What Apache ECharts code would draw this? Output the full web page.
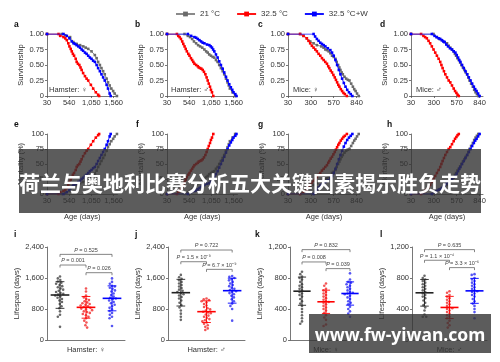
<!DOCTYPE html>
<html><head><meta charset="utf-8">
<script src="https://cdn.jsdelivr.net/npm/echarts@6/dist/echarts.min.js"></script>
<style>html,body{margin:0;padding:0;background:#fff}#c{width:500px;height:362px}</style>
</head><body><div id="c"></div><script>
// ---- categories / legend ----
const seriesNames = ['21 °C', '32.5 °C', '32.5 °C+W'];
// ---- survivorship curves [age (days), survivorship] ----
const aGray = [[30,1],[371,1],[450,0.98],[561,0.95],[636,0.87],[712,0.84],[790,0.82],[864,0.80],[920,0.78],[977,0.76],[1053,0.72],[1129,0.66],[1170,0.61],[1205,0.55],[1245,0.50],[1281,0.45],[1320,0.40],[1357,0.35],[1400,0.28],[1432,0.22],[1470,0.17],[1508,0.12],[1550,0.08],[1584,0.04],[1637,0]];
const aRed  = [[30,1],[295,1],[333,0.97],[409,0.95],[450,0.93],[485,0.90],[520,0.85],[545,0.80],[575,0.76],[599,0.72],[625,0.68],[652,0.65],[690,0.60],[712,0.55],[740,0.52],[773,0.50],[800,0.46],[826,0.42],[860,0.37],[902,0.32],[940,0.28],[977,0.25],[1038,0.18],[1091,0.12],[1152,0.06],[1205,0.02],[1228,0]];
const aBlue = [[30,1],[409,1],[485,0.97],[545,0.93],[599,0.88],[640,0.85],[674,0.84],[710,0.82],[750,0.80],[790,0.78],[826,0.75],[860,0.73],[902,0.70],[940,0.68],[977,0.65],[1015,0.62],[1053,0.60],[1090,0.57],[1129,0.55],[1170,0.50],[1205,0.45],[1245,0.40],[1281,0.35],[1320,0.30],[1357,0.25],[1400,0.18],[1432,0.12],[1470,0.04],[1493,0]];
const bGray = [[30,1],[433,1],[509,0.97],[560,0.95],[608,0.92],[650,0.88],[699,0.85],[745,0.82],[790,0.80],[840,0.78],[889,0.75],[930,0.72],[965,0.70],[1000,0.67],[1041,0.65],[1080,0.63],[1117,0.62],[1155,0.58],[1193,0.55],[1230,0.50],[1269,0.45],[1310,0.40],[1345,0.35],[1385,0.28],[1421,0.22],[1450,0.17],[1474,0.12],[1535,0.06],[1596,0]];
const bRed  = [[30,1],[258,1],[290,0.97],[319,0.95],[350,0.92],[380,0.88],[405,0.84],[433,0.80],[460,0.76],[486,0.72],[520,0.68],[547,0.65],[580,0.61],[608,0.58],[635,0.55],[661,0.52],[700,0.50],[737,0.48],[760,0.46],[790,0.45],[820,0.44],[851,0.42],[880,0.39],[912,0.35],[940,0.30],[965,0.25],[990,0.20],[1018,0.15],[1040,0.10],[1064,0.06],[1094,0]];
const bBlue = [[30,1],[509,1],[585,0.97],[661,0.95],[700,0.94],[737,0.92],[775,0.90],[813,0.88],[850,0.86],[889,0.85],[950,0.83],[1003,0.82],[1035,0.80],[1064,0.78],[1090,0.75],[1117,0.72],[1155,0.67],[1193,0.62],[1230,0.56],[1269,0.50],[1310,0.44],[1345,0.38],[1385,0.31],[1421,0.25],[1460,0.19],[1497,0.14],[1530,0.10],[1558,0.06],[1600,0.03],[1626,0]];
const cGray = [[30,1],[173,1],[213,0.97],[252,0.93],[292,0.88],[332,0.85],[371,0.82],[423,0.80],[450,0.78],[471,0.75],[490,0.74],[510,0.72],[530,0.69],[550,0.65],[570,0.63],[590,0.60],[605,0.55],[622,0.50],[636,0.46],[649,0.42],[663,0.38],[677,0.35],[697,0.31],[717,0.28],[736,0.26],[756,0.25],[776,0.20],[796,0.15],[812,0.11],[828,0.08],[845,0.04],[865,0]];
const cRed  = [[30,1],[173,1],[213,0.97],[252,0.93],[272,0.89],[292,0.85],[312,0.81],[332,0.78],[352,0.75],[371,0.72],[391,0.68],[411,0.65],[431,0.61],[451,0.58],[470,0.55],[490,0.52],[505,0.48],[518,0.45],[534,0.41],[550,0.38],[566,0.34],[582,0.30],[596,0.26],[610,0.22],[624,0.18],[637,0.15],[653,0.11],[669,0.08],[685,0.05],[701,0.03],[725,0]];
const cBlue = [[30,1],[332,1],[350,0.96],[371,0.92],[391,0.89],[411,0.86],[431,0.84],[451,0.82],[471,0.80],[500,0.77],[530,0.74],[550,0.70],[570,0.65],[590,0.58],[610,0.50],[630,0.42],[649,0.35],[669,0.28],[689,0.21],[709,0.15],[729,0.10],[750,0.06],[770,0.03],[790,0]];
const dGray = [[30,1],[296,1],[336,0.95],[365,0.92],[395,0.90],[425,0.87],[455,0.85],[475,0.81],[494,0.78],[514,0.75],[534,0.72],[548,0.68],[562,0.65],[578,0.61],[594,0.58],[610,0.54],[625,0.50],[643,0.46],[661,0.42],[677,0.38],[693,0.35],[707,0.30],[721,0.25],[740,0.20],[760,0.15],[776,0.10],[792,0.06],[808,0.03],[824,0]];
const dRed  = [[30,1],[149,1],[177,0.97],[197,0.95],[217,0.93],[237,0.89],[256,0.85],[276,0.80],[296,0.75],[316,0.70],[336,0.65],[356,0.60],[375,0.55],[389,0.50],[403,0.45],[419,0.40],[435,0.35],[455,0.30],[475,0.25],[494,0.22],[514,0.17],[534,0.12],[550,0.08],[566,0.05],[580,0.02],[594,0]];
const dBlue = [[30,1],[276,1],[308,0.97],[332,0.95],[356,0.93],[375,0.92],[395,0.90],[411,0.88],[427,0.87],[447,0.83],[467,0.80],[490,0.77],[514,0.75],[534,0.72],[554,0.70],[570,0.66],[586,0.62],[600,0.58],[613,0.55],[633,0.50],[653,0.45],[673,0.40],[693,0.35],[713,0.30],[733,0.25],[752,0.20],[772,0.15],[788,0.11],[804,0.08],[822,0.04],[840,0]];
// ---- lifespans (days) ----
const iGray = [1640,1590,1550,1510,1480,1450,1420,1390,1360,1330,1300,1270,1240,1210,1190,1170,1150,1120,1090,1060,1020,980,930,870,820,740,650,600,340];
const iRed  = [1330,1250,1150,1100,1060,1030,1000,970,950,930,910,890,870,850,830,810,790,770,740,720,700,670,640,600,560,500,450,380,320];
const iBlue = [1590,1500,1450,1400,1380,1350,1320,1280,1250,1200,1160,1120,1090,1070,1050,1020,980,950,910,870,830,790,750,700,650,600,560,360];
const jGray = [1680,1620,1580,1540,1500,1460,1420,1380,1340,1300,1270,1240,1210,1180,1150,1110,1070,1020,960,900,840,760,680,600,520];
const jRed  = [1070,1050,1030,1000,970,930,890,850,820,790,760,730,710,690,660,630,600,570,540,510,480,450,420,380,340,300,260];
const jBlue = [1650,1630,1600,1570,1540,1500,1460,1420,1390,1350,1320,1290,1260,1240,1210,1180,1140,1100,1050,1000,940,880,800,500];
const kGray = [880,850,820,800,780,750,720,700,680,660,640,620,600,580,560,530,500,470,440,400,360,320,280,240,210];
const kRed  = [730,700,660,640,620,600,580,560,540,520,500,490,480,460,440,420,400,380,350,320,290,260,200,180];
const kBlue = [860,780,750,740,720,700,680,660,640,620,610,600,590,570,550,530,500,480,460,430,400,370,340,300];
const lGray = [830,800,780,760,740,720,700,680,660,640,620,600,580,560,540,510,480,450,420,380,330,300,300];
const lRed  = [630,610,580,560,540,520,500,480,460,440,420,410,400,380,360,340,320,300,280,250,220,190,160];
const lBlue = [850,840,800,780,760,740,720,700,680,660,640,630,620,600,580,560,530,500,470,440,400,360,280];
// mean and SD
const iMean = [1161, 843, 1075], iSd = [344, 280, 322];
const jMean = [1221, 731, 1273], jSd = [344, 280, 322];
const kMean = [630, 493, 600],   kSd = [182, 150, 150];
const lMean = [609, 420, 634],   lSd = [172, 143, 161];
// P-value brackets: [from group, to group, height]
const iBr = [[0,2,2210],[0,1,1935],[1,2,1737]], iP = ['0.525','0.001','0.026'];
const jBr = [[0,2,2322],[0,1,2020],[1,2,1823]], jP = ['0.722','1.5 × 10⁻⁹','6.7 × 10⁻⁹'];
const kBr = [[0,2,1166],[0,1,1007],[1,2,921]],  kP = ['0.832','0.008','0.039'];
const lBr = [[0,2,1166],[0,1,1029],[1,2,934]],  lP = ['0.635','1.1 × 10⁻⁴','3.3 × 10⁻⁶'];
// tick labels
const hamsterTicks = [30, 540, 1050, 1560];
const miceTicks = [30, 300, 570, 840];
const survTicks = [0, 0.25, 0.5, 0.75, 1];
const mortTicks = [0, 25, 50, 75, 100];

// ---- styling ----
const FONT = "'Liberation Sans', Arial, sans-serif";
const lineColors = ['#8a8a8a', '#ff1515', '#1515ff'];
const markColors = ['#6a6a6a', '#ff0000', '#0000ff'];
const dotColors  = ['#444444', '#f02a2a', '#2a2af0'];
const meanColors = ['#222222', '#ff0000', '#0000ff'];
const axisCol = '#555';

const cols14 = [[47,70.5],[167,70.5],[288,72],[411,72]];
const cols3 = [[47,78],[168,77],[290,72],[412,75]];
const grids = [], xAxes = [], yAxes = [], series = [];
const fmtNum = v => Number(v).toLocaleString('en-US');

function baseAxis(){
  return {
    axisLine:{show:true, lineStyle:{color:axisCol, width:0.8}},
    axisTick:{show:true, length:2, lineStyle:{color:axisCol, width:0.8}},
    splitLine:{show:false},
    axisLabel:{fontSize:7.5, color:'#333', fontFamily:FONT, margin:3},
    nameTextStyle:{fontSize:7.5, color:'#333', fontFamily:FONT}
  };
}

const curveSets = [[aGray,aRed,aBlue],[bGray,bRed,bBlue],[cGray,cRed,cBlue],[dGray,dRed,dBlue]];
// rows 1 and 2
for (let row = 0; row < 2; row++) {
  for (let p = 0; p < 4; p++) {
    const g = grids.length;
    const top = row === 0 ? 34 : 134, h = row === 0 ? 62 : 60;
    grids.push({left: cols14[p][0], top: top, width: cols14[p][1], height: h});
    const ham = p < 2;
    const ticks = ham ? hamsterTicks : miceTicks;
    xAxes.push(Object.assign(baseAxis(), {
      type:'value', gridIndex:g, min:30, max: ham ? 1650 : 880,
      axisLabel:Object.assign(baseAxis().axisLabel, {customValues:ticks, formatter:fmtNum}),
      axisTick:Object.assign(baseAxis().axisTick, {customValues:ticks}),
      name: row === 1 ? 'Age (days)' : '', nameLocation:'middle', nameGap:19
    }));
    const yt = row === 0 ? survTicks : mortTicks;
    yAxes.push(Object.assign(baseAxis(), {
      type:'value', gridIndex:g, min:0, max: row === 0 ? 1 : 100,
      axisLabel:Object.assign(baseAxis().axisLabel, {customValues:yt,
        formatter: v => row === 0 ? (v === 0 ? '0' : v.toFixed(2)) : String(v)}),
      axisTick:Object.assign(baseAxis().axisTick, {customValues:yt}),
      name: row === 0 ? 'Survivorship' : 'Mortality (%)', nameLocation:'middle', nameGap:22
    }));
    curveSets[p].forEach((d, k) => {
      const data = row === 0 ? d : d.map(q => [q[0], Math.round((1 - q[1]) * 1000) / 10]);
      series.push({type:'line', name:seriesNames[k], xAxisIndex:g, yAxisIndex:g, data:data,
        symbol:'rect', symbolSize:2.6, showSymbol:true,
        lineStyle:{color:lineColors[k], width:1}, itemStyle:{color:markColors[k]},
        z: 2 + k, silent:true});
    });
  }
}
// row 3
const dotSets = [[iGray,iRed,iBlue],[jGray,jRed,jBlue],[kGray,kRed,kBlue],[lGray,lRed,lBlue]];
const meanSets = [[iMean,iSd],[jMean,jSd],[kMean,kSd],[lMean,lSd]];
const brSets = [[iBr,iP],[jBr,jP],[kBr,kP],[lBr,lP]];
const row3Names = ['Hamster: ♀','Hamster: ♂','Mice: ♀','Mice: ♂'];
for (let p = 0; p < 4; p++) {
  const g = grids.length;
  grids.push({left: cols3[p][0], top:247, width: cols3[p][1], height:93});
  const ham = p < 2;
  xAxes.push(Object.assign(baseAxis(), {
    type:'category', gridIndex:g, data:seriesNames, boundaryGap:true,
    axisTick:{show:false}, axisLabel:{show:false},
    jitter: 13, jitterOverlap:false, jitterMargin:0.3,
    name: row3Names[p], nameLocation:'middle', nameGap:6,
    nameTextStyle:{fontSize:7.5, color:'#333', fontFamily:FONT}
  }));
  yAxes.push(Object.assign(baseAxis(), {
    type:'value', gridIndex:g, min:0, max: ham ? 2400 : 1200, interval: ham ? 800 : 400,
    axisLabel:Object.assign(baseAxis().axisLabel, {formatter:fmtNum}),
    name:'Lifespan (days)', nameLocation:'middle', nameGap:24
  }));
  dotSets[p].forEach((vals, k) => {
    series.push({type:'scatter', name:seriesNames[k], xAxisIndex:g, yAxisIndex:g,
      data: vals.map(v => [k, v]), symbol:'circle', symbolSize:2.6,
      itemStyle:{color:dotColors[k]}, silent:true, z:2});
  });
  const [means, sds] = meanSets[p];
  series.push({type:'custom', xAxisIndex:g, yAxisIndex:g, z:5, silent:true,
    data: means.map((m, i) => [i, m, sds[i]]),
    renderItem: (params, api) => {
      const c = api.value(0), m = api.value(1), s = api.value(2);
      const pm = api.coord([c, m]), pt = api.coord([c, m + s]), pb = api.coord([c, m - s]);
      const bw = api.size([1, 0])[0];
      const col = meanColors[c];
      const hw = bw * 0.36, cw = bw * 0.17;
      return {type:'group', children:[
        {type:'line', shape:{x1:pm[0]-hw, y1:pm[1], x2:pm[0]+hw, y2:pm[1]}, style:{stroke:col, lineWidth:1.6}},
        {type:'line', shape:{x1:pt[0], y1:pt[1], x2:pb[0], y2:pb[1]}, style:{stroke:col, lineWidth:0.9}},
        {type:'line', shape:{x1:pt[0]-cw, y1:pt[1], x2:pt[0]+cw, y2:pt[1]}, style:{stroke:col, lineWidth:0.9}},
        {type:'line', shape:{x1:pb[0]-cw, y1:pb[1], x2:pb[0]+cw, y2:pb[1]}, style:{stroke:col, lineWidth:0.9}}
      ]};
    }});
  const [brs, pl] = brSets[p];
  series.push({type:'custom', xAxisIndex:g, yAxisIndex:g, z:5, silent:true, clip:false,
    data: brs,
    renderItem: (params, api) => {
      const a = api.coord([api.value(0), api.value(2)]);
      const b = api.coord([api.value(1), api.value(2)]);
      const col = '#666';
      return {type:'group', children:[
        {type:'polyline', shape:{points:[[a[0], a[1]+2.5],[a[0], a[1]],[b[0], b[1]],[b[0], b[1]+2.5]]},
          style:{stroke:col, lineWidth:0.8, fill:null}},
        {type:'text', x:(a[0]+b[0])/2, y:a[1]-1.2,
          style:{text:'{i|P} = ' + pl[params.dataIndex], align:'center', verticalAlign:'bottom',
            fontSize:5.5, fill:'#444', fontFamily:FONT,
            rich:{i:{fontStyle:'italic', fontSize:5.5, fill:'#444', fontFamily:FONT}}}}
      ]};
    }});
}

// ---- annotations ----
const letters = [['a',14,25],['b',135,25],['c',258,25],['d',380,25],
                 ['e',14,125],['f',136,125],['g',258,125],['h',387,125],
                 ['i',14,235],['j',135,235],['k',255,235],['l',380,235]];
const inner = [['Hamster: ♀',49,90],['Hamster: ♂',171,90],['Mice: ♀',293,90],['Mice: ♂',416,90]];
const graphic = [];
letters.forEach(([t,x,y]) => graphic.push({type:'text', x:x, y:y, z:50,
  style:{text:t, fontSize:8.5, fontWeight:'bold', fill:'#111', fontFamily:FONT, verticalAlign:'middle'}}));
inner.forEach(([t,x,y]) => graphic.push({type:'text', x:x, y:y, z:50,
  style:{text:t, fontSize:7.5, fill:'#333', fontFamily:FONT, verticalAlign:'middle'}}));
graphic.push({type:'rect', shape:{x:19, y:149, width:462, height:64}, z:100,
  style:{fill:'rgba(51,51,51,0.8)'}});
graphic.push({type:'text', x:250, y:183, z:101,
  style:{text:'荷兰与奥地利比赛分析五大关键因素揭示胜负走势', fontSize:21, fontWeight:'bold',
    fill:'#fff', fontFamily:"'Noto Sans CJK SC', sans-serif", align:'center', verticalAlign:'middle'}});
graphic.push({type:'rect', shape:{x:309, y:314, width:182, height:39}, z:100,
  style:{fill:'rgba(51,51,51,0.8)'}});
graphic.push({type:'text', x:400, y:336, z:101,
  style:{text:'www.fw-yiwan.com', fontSize:17.5, fontWeight:'bold',
    fill:'#fff', fontFamily:"'Noto Sans', sans-serif", align:'center', verticalAlign:'middle'}});

const chart = echarts.init(document.getElementById('c'), null, {renderer:'canvas'});
chart.setOption({
  animation:false,
  backgroundColor:'#fff',
  textStyle:{fontFamily:FONT},
  legend:{data:seriesNames, left:170, top:5, itemWidth:19, itemHeight:6, itemGap:16,
    textStyle:{fontSize:8, color:'#333', fontFamily:FONT}, selectedMode:false},
  grid:grids, xAxis:xAxes, yAxis:yAxes, series:series, graphic:graphic
});
</script></body></html>
